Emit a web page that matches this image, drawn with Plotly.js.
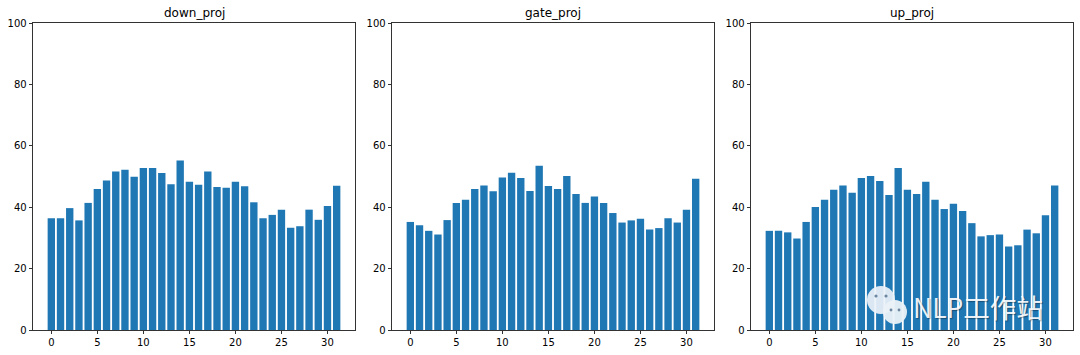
<!DOCTYPE html>
<html><head><meta charset="utf-8">
<script src="https://cdn.plot.ly/plotly-3.0.1.min.js"></script>
<style>html,body{margin:0;padding:0;background:#fff;}</style>
</head><body>
<div id="chart" style="width:1080px;height:355px;"></div>
<script>
const layers = Array.from({length: 32}, (_, i) => i);
const titles = ["down_proj", "gate_proj", "up_proj"];
const downProj = [36.4,36.4,39.7,35.7,41.4,45.9,48.7,51.6,52.2,49.9,52.8,52.8,51.1,47.5,55.2,48.3,47.3,51.6,46.6,46.3,48.3,46.8,41.6,36.4,37.5,39.2,33.3,33.8,39.2,35.9,40.4,47.0];
const gateProj = [35.2,34.1,32.3,31.1,35.8,41.4,42.4,45.9,47.1,45.2,49.7,51.2,49.5,45.3,53.5,46.9,45.9,50.2,44.3,41.4,43.5,41.4,38.1,35.0,35.7,36.2,32.7,33.2,36.4,35.0,39.2,49.3];
const upProj = [32.3,32.3,31.8,29.8,35.2,40.1,42.4,45.7,47.1,44.7,49.5,50.2,48.5,44.0,52.8,45.7,44.3,48.3,42.4,39.4,41.1,38.8,34.8,30.5,30.9,31.1,27.2,27.6,32.7,31.5,37.4,47.1];
const xTicks = [0,5,10,15,20,25,30];
const yTicks = [0,20,40,60,80,100];
const watermark = "NLP工作站";

const series = [downProj, gateProj, upProj];
const W = 1080, H = 355, ML = 33, MR = 7, MT = 23, MB = 25;
const PW = W - ML - MR, PH = H - MT - MB;
const px = v => (v - ML) / PW;
const py = v => (H - MB - v) / PH;
const domains = [[px(33), px(355)], [px(392), px(714)], [px(751), px(1073)]];

const traces = series.map((s, i) => ({
  type: 'bar', x: layers, y: s, width: 0.8,
  marker: {color: '#1f77b4', line: {width: 0}},
  xaxis: i === 0 ? 'x' : 'x' + (i + 1),
  yaxis: i === 0 ? 'y' : 'y' + (i + 1),
  hoverinfo: 'none'
}));

const layout = {
  width: W, height: H, showlegend: false,
  margin: {l: ML, r: MR, t: MT, b: MB},
  paper_bgcolor: '#fff', plot_bgcolor: '#fff',
  font: {family: 'DejaVu Sans', size: 10, color: '#222'},
  annotations: [], shapes: []
};
for (let i = 0; i < 3; i++) {
  const sfx = i === 0 ? '' : String(i + 1);
  layout['xaxis' + sfx] = {
    domain: domains[i], range: [-1.99, 32.99], anchor: 'y' + sfx,
    tickmode: 'array', tickvals: xTicks, ticks: 'outside', ticklen: 3.5, tickwidth: 0.8,
    tickcolor: '#000', showgrid: false, zeroline: false, showline: true, linecolor: '#000',
    linewidth: 0.8, mirror: true, tickfont: {size: 10, color: '#000'}, fixedrange: true
  };
  layout['yaxis' + sfx] = {
    domain: [0, 1], range: [0, 100], anchor: 'x' + sfx,
    tickmode: 'array', tickvals: yTicks, ticks: 'outside', ticklen: 3.5, tickwidth: 0.8,
    tickcolor: '#000', showgrid: false, zeroline: false, showline: true, linecolor: '#000',
    linewidth: 0.8, mirror: true, tickfont: {size: 10, color: '#000'}, fixedrange: true
  };
  layout.annotations.push({
    text: titles[i], xref: 'paper', yref: 'paper',
    x: (domains[i][0] + domains[i][1]) / 2, y: 1, yshift: 1,
    xanchor: 'center', yanchor: 'bottom', showarrow: false,
    font: {size: 12, color: '#000', family: 'DejaVu Sans'}
  });
}
// watermark
layout.annotations.push({
  text: watermark, xref: 'paper', yref: 'paper', x: px(911), y: py(306),
  xanchor: 'left', yanchor: 'middle', showarrow: false,
  font: {size: 26.5, color: 'rgba(255,255,255,0.92)', family: 'Noto Sans CJK SC',
         shadow: '1px 1px 1px rgba(0,0,0,0.35)'}
});
const circ = (cx, cy, r, fill) => ({
  type: 'circle', xref: 'paper', yref: 'paper',
  x0: px(cx - r), x1: px(cx + r), y0: py(cy + r), y1: py(cy - r),
  fillcolor: fill, line: {width: 0}, layer: 'above'
});
layout.shapes.push(circ(881, 300, 14, 'rgba(235,242,248,0.92)'));
layout.shapes.push(circ(895, 312, 12, 'rgba(235,242,248,0.95)'));
layout.shapes.push(circ(876, 296, 1.6, 'rgba(80,110,140,0.8)'));
layout.shapes.push(circ(886, 296, 1.6, 'rgba(80,110,140,0.8)'));
layout.shapes.push(circ(891, 310, 1.4, 'rgba(80,110,140,0.8)'));
layout.shapes.push(circ(899, 310, 1.4, 'rgba(80,110,140,0.8)'));

Plotly.newPlot('chart', traces, layout, {staticPlot: true, displayModeBar: false});
</script>
</body></html>
